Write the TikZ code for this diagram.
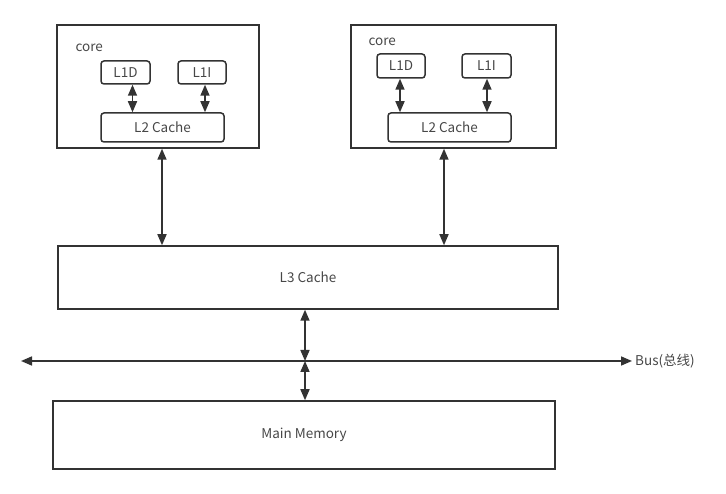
\documentclass[tikz,border=0pt]{standalone}
\usepackage{fontspec}
\setmainfont{Noto Sans CJK SC}
\usetikzlibrary{arrows.meta, positioning}
\definecolor{ink}{HTML}{333333}

\begin{document}
\begin{tikzpicture}[
    x=1pt, y=-1pt,
    font=\fontsize{13.5}{16}\selectfont,
    text=ink!90,
    outer/.style={rectangle, draw=ink, line width=1.5pt, inner sep=0pt},
    cache/.style={rectangle, draw=ink, line width=1.5pt, rounded corners=3pt, inner sep=0pt},
    link/.style={draw=ink, line width=1.6pt, {Triangle[length=11pt,width=9pt]}-{Triangle[length=11pt,width=9pt]}}
]
\useasboundingbox (0,0) rectangle (726,494);

% Core 1
\node[outer, minimum width=202pt, minimum height=123pt] (corea) at (158,86.5) {};
\node[anchor=west] (labela) at (72,48) {core};
\node[cache, minimum width=49pt, minimum height=23pt] (lda) at (125.5,72.5) {L1D};
\node[cache, minimum width=48pt, minimum height=23pt] (lia) at (202,72.5) {L1I};
\node[cache, minimum width=123pt, minimum height=29pt] (l2a) at (162.5,127.5) {L2 Cache};

% Core 2
\node[outer, minimum width=205pt, minimum height=123pt] (coreb) at (453.5,86.5) {};
\node[anchor=west] (labelb) at (365,42) {core};
\node[cache, minimum width=48pt, minimum height=24pt] (ldb) at (401,66) {L1D};
\node[cache, minimum width=49pt, minimum height=24pt] (lib) at (486.5,66) {L1I};
\node[cache, minimum width=123pt, minimum height=29pt] (l2b) at (449.5,127.5) {L2 Cache};

% Shared levels
\node[outer, minimum width=500pt, minimum height=63pt] (l3) at (308,277.5) {L3 Cache};
\node[outer, minimum width=502pt, minimum height=68pt] (mem) at (304,435) {\raisebox{-3pt}{Main Memory}};

% Bus
\coordinate (busl) at (21,361);
\coordinate (busr) at (632,361);
\coordinate (hub) at (305,361);
\node[anchor=west, inner sep=0pt] (buslabel) at (635,361) {Bus(总线)};

% Arrows
\draw[link] ([xshift=7pt]lda.south) -- ([xshift=7pt]lda.south |- l2a.north);
\draw[link] ([xshift=3pt]lia.south) -- ([xshift=3pt]lia.south |- l2a.north);
\draw[link] ([xshift=-1pt]ldb.south) -- ([xshift=-1pt]ldb.south |- l2b.north);
\draw[link] ([xshift=0.5pt]lib.south) -- ([xshift=0.5pt]lib.south |- l2b.north);
\draw[link] ([xshift=-0.5pt]l2a.south |- corea.south) -- ([xshift=-0.5pt]l2a.south |- l3.north);
\draw[link] ([xshift=-5.5pt]l2b.south |- coreb.south) -- ([xshift=-5.5pt]l2b.south |- l3.north);
\draw[link] (hub |- l3.south) -- (hub);
\draw[link] (hub) -- (hub |- mem.north);
\draw[link] (busl) -- (busr);

\end{tikzpicture}
\end{document}
